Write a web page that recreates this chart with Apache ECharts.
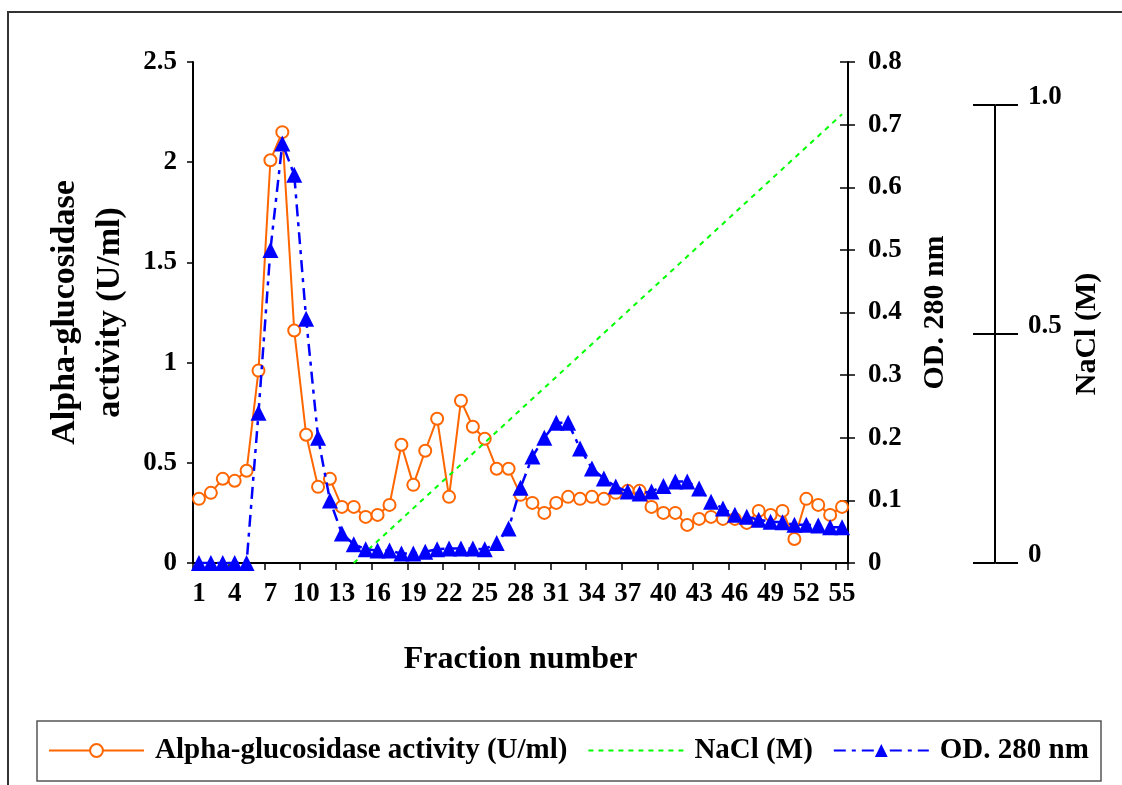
<!DOCTYPE html>
<html><head><meta charset="utf-8">
<script src="https://cdn.jsdelivr.net/npm/echarts@6/dist/echarts.min.js"></script>
<style>html,body{margin:0;padding:0;background:#fff}#c{width:1122px;height:785px}</style>
</head><body><div id="c"></div>
<script>
// ---------- data ----------
const fractions = ['1','2','3','4','5','6','7','8','9','10','11','12','13','14','15','16','17','18','19','20',
  '21','22','23','24','25','26','27','28','29','30','31','32','33','34','35','36','37','38','39','40',
  '41','42','43','44','45','46','47','48','49','50','51','52','53','54','55'];

const activity = [0.32,0.35,0.42,0.41,0.46,0.96,2.01,2.15,1.16,0.64,
  0.38,0.42,0.28,0.28,0.23,0.24,0.29,0.59,0.39,0.56,
  0.72,0.33,0.81,0.68,0.62,0.47,0.47,0.34,0.30,0.25,
  0.30,0.33,0.32,0.33,0.32,0.35,0.36,0.36,0.28,0.25,
  0.25,0.19,0.22,0.23,0.22,0.22,0.20,0.26,0.24,0.26,
  0.12,0.32,0.29,0.24,0.28];

const od280 = [0,0,0,0,0,0.24,0.50,0.67,0.62,0.39,
  0.20,0.10,0.047,0.03,0.022,0.02,0.02,0.015,0.015,0.018,
  0.022,0.023,0.023,0.023,0.022,0.032,0.055,0.12,0.17,0.20,
  0.224,0.224,0.183,0.151,0.135,0.122,0.114,0.111,0.114,0.123,
  0.13,0.13,0.119,0.098,0.087,0.077,0.074,0.069,0.066,0.065,
  0.061,0.061,0.06,0.057,0.057];

// NaCl gradient: read at its two ends
const naclFractions = ['14','55'];
const naclValues = [0, 0.98];

const naclTicks = ['0','0.5','1.0'];

const seriesNames = ['Alpha-glucosidase activity (U/ml)','NaCl (M)','OD. 280 nm'];

// ---------- chart ----------
const FONT = 'Liberation Serif';
const txt = (size, extra) => Object.assign({fontFamily:FONT, fontWeight:'bold', color:'#000', fontSize:size}, extra||{});
const chart = echarts.init(document.getElementById('c'), null, {renderer:'canvas'});

const option = {
  animation:false,
  backgroundColor:'#fff',
  textStyle:{fontFamily:FONT},
  graphic:[
    {type:'rect', shape:{x:8, y:12, width:1300, height:1000}, style:{fill:'none', stroke:'#333', lineWidth:2}, silent:true},
    {type:'rect', shape:{x:37, y:721, width:1064, height:60}, style:{fill:'none', stroke:'#555', lineWidth:1.5}, silent:true}
  ],
  legend:{
    left:48, top:736, itemWidth:95, itemHeight:16, itemGap:20, padding:0,
    textStyle:txt(29, {padding:[0,0,0,6]}),
    data:[
      {name:seriesNames[0]},
      {name:seriesNames[1], itemStyle:{opacity:0}},
      {name:seriesNames[2]}
    ]
  },
  grid:[
    {left:193, right:274, top:62, bottom:222, outerBoundsMode:'none'},
    {left:995, width:1, top:105, bottom:222, outerBoundsMode:'none'}
  ],
  xAxis:[
    {type:'category', gridIndex:0, data:fractions, boundaryGap:true,
     axisLine:{lineStyle:{color:'#000', width:2}},
     axisTick:{show:true, interval:2, length:7, lineStyle:{color:'#000', width:1.5}},
     axisLabel:txt(27, {interval:2, margin:18}),
     splitLine:{show:false},
     name:'Fraction number', nameLocation:'middle', nameGap:81, nameTextStyle:txt(32)},
    {type:'value', gridIndex:1, show:false, min:0, max:1}
  ],
  yAxis:[
    {type:'value', gridIndex:0, position:'left', min:0, max:2.5, interval:0.5,
     axisLine:{show:true, lineStyle:{color:'#000', width:2}},
     axisTick:{show:true, length:6, lineStyle:{color:'#000', width:1.5}},
     axisLabel:txt(27, {margin:16}),
     splitLine:{show:false},
     name:'Alpha-glucosidase\nactivity (U/ml)', nameLocation:'middle', nameGap:60,
     nameTextStyle:txt(34, {lineHeight:45})},
    {type:'value', gridIndex:0, position:'right', min:0, max:0.8, interval:0.1,
     axisLine:{show:true, lineStyle:{color:'#000', width:2}},
     axisTick:{show:true, length:7, lineStyle:{color:'#000', width:1.5}},
     axisLabel:txt(27, {margin:20}),
     splitLine:{show:false},
     name:'OD. 280 nm', nameLocation:'middle', nameGap:72, nameTextStyle:txt(30)},
    {type:'value', gridIndex:0, show:false, min:0, max:1.094},
    {type:'value', gridIndex:0, position:'right', min:0, max:0.8, interval:0.1,
     axisLine:{show:false}, axisTick:{show:true, inside:true, length:8, lineStyle:{color:'#000', width:1.5}},
     axisLabel:{show:false}, splitLine:{show:false}},
    {type:'value', gridIndex:1, position:'left', min:0, max:1, interval:0.5,
     axisLine:{show:true, lineStyle:{color:'#000', width:2}},
     axisTick:{show:true, length:22, lineStyle:{color:'#000', width:2}},
     axisLabel:{show:false}, splitLine:{show:false}},
    {type:'value', gridIndex:1, position:'right', min:0, max:1, interval:0.5,
     axisLine:{show:false},
     axisTick:{show:true, length:22, lineStyle:{color:'#000', width:2}},
     axisLabel:txt(27, {margin:32, verticalAlign:'bottom', align:'left', padding:[0,0,-6,0],
       formatter:(v)=> naclTicks[Math.round(v*2)]}),
     splitLine:{show:false},
     name:'NaCl (M)', nameLocation:'middle', nameGap:76, nameTextStyle:txt(30)}
  ],
  series:[
    {name:seriesNames[0], type:'line', xAxisIndex:0, yAxisIndex:0, data:activity,
     symbol:'emptyCircle', symbolSize:12, showAllSymbol:true,
     lineStyle:{color:'#FF6600', width:2}, itemStyle:{color:'#FF6600', borderWidth:2},
     emphasis:{disabled:true}, z:2},
    {name:seriesNames[1], type:'line', xAxisIndex:0, yAxisIndex:2,
     data:naclFractions.map((f,i)=>[f, naclValues[i]]),
     symbol:'none', lineStyle:{color:'#00FF00', width:2, type:[5,5]}, itemStyle:{color:'#00FF00'},
     emphasis:{disabled:true}, z:3},
    {name:seriesNames[2], type:'line', xAxisIndex:0, yAxisIndex:1, data:od280,
     symbol:'triangle', symbolSize:16, showAllSymbol:true,
     lineStyle:{color:'#0000FF', width:2.5, type:[12,6,4,6]}, itemStyle:{color:'#0000FF'},
     emphasis:{disabled:true}, z:4}
  ]
};
chart.setOption(option);
</script>
</body></html>
